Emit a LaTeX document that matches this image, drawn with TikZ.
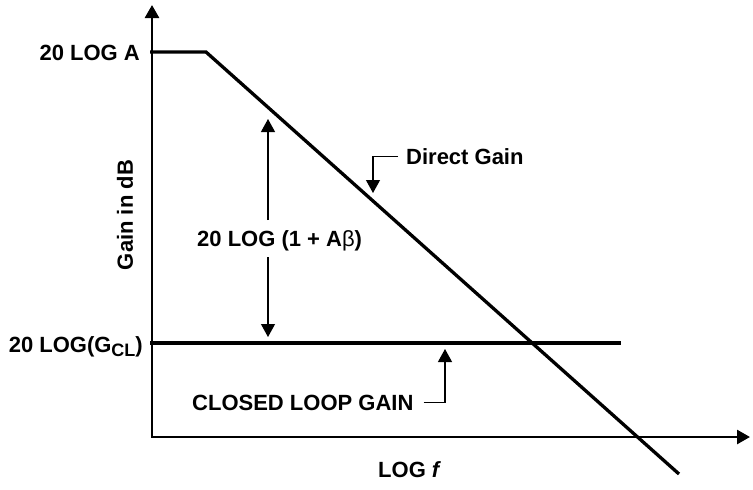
\documentclass[tikz,border=0pt]{standalone}
\usepackage{fontspec}
\setmainfont{Liberation Sans}
\usetikzlibrary{arrows.meta}
\begin{document}
\begin{tikzpicture}[x=1pt,y=-1pt,
  lbl/.style={inner sep=0pt,font=\fontsize{22pt}{26pt}\selectfont\bfseries},
  tri/.style={{Triangle[length=13pt,width=14pt]}},
  axisline/.style={line width=2.7pt,{Triangle[length=13pt,width=14pt]}-{Triangle[length=13pt,width=14pt]}},
  curve/.style={line width=3.3pt},
  leader/.style={line width=1.2pt,-{Triangle[length=13pt,width=14pt]}},
  dbl/.style={line width=1.2pt,-{Triangle[length=13pt,width=14pt]}}]
\useasboundingbox (0,0) rectangle (753,490);
% key points
\coordinate (O) at (152,437);
\coordinate (top) at (152,5);
\coordinate (xend) at (750,437);
\coordinate (pA) at (150,52);
\coordinate (knee) at (206,52);
\coordinate (dend) at (679,474);
\coordinate (gcl) at (150,343);
\coordinate (gclend) at (621,343);
% axes
\draw[axisline] (top) -- (O) -- (xend);
% curves
\draw[curve] (pA) -- (knee) -- (dend);
\draw[curve] (gcl) -- (gclend);
% axis labels
\node[lbl,anchor=base east] (la) at (140,60) {20 LOG A};
\node[lbl,anchor=base east] (lg) at (143,352) {20 LOG(G\raisebox{-4.5pt}{\fontsize{18pt}{20pt}\selectfont CL})};
\node[lbl,rotate=90] (ly) at (125,215) {Gain in dB};
\node[lbl,anchor=base west] (lx) at (378,477) {LOG \textit{f}};
% loop gain label with double arrow
\node[lbl,anchor=base west] (lab) at (197,246) {20 LOG (1 + A{\fontseries{m}\selectfont β})};
\coordinate (dA1) at (268,220);
\coordinate (dA2) at (268,119);
\coordinate (dB1) at (268,257);
\coordinate (dB2) at (268,337);
\draw[dbl] (dA1) -- (dA2);
\draw[dbl] (dB1) -- (dB2);
% direct gain
\node[lbl,anchor=base west] (dg) at (406,164) {Direct Gain};
\coordinate (dgtip) at (373,193);
\draw[leader] ([xshift=-8pt]dg.west) -| (dgtip);
% closed loop gain
\node[lbl,anchor=base west] (cl) at (192,410) {CLOSED LOOP GAIN};
\coordinate (cltip) at (445,349);
\draw[leader] ([xshift=10pt]cl.east) -| (cltip);
\end{tikzpicture}
\end{document}
